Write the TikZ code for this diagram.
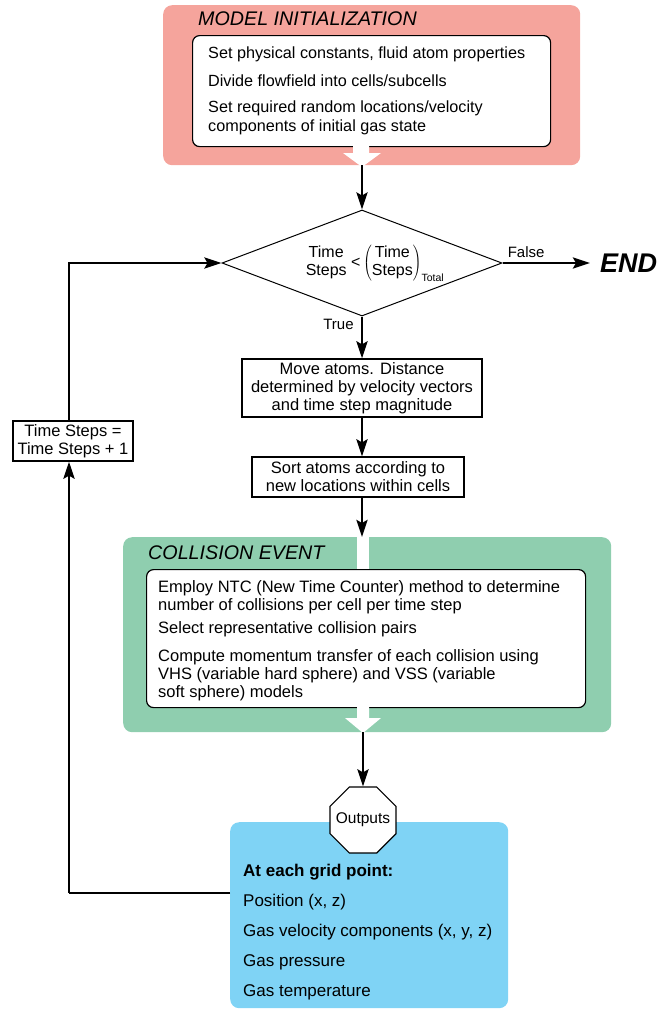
\documentclass[tikz,border=0pt]{standalone}
\usepackage{fontspec}
\setmainfont{Liberation Sans}
\usetikzlibrary{arrows.meta, positioning, shapes.geometric}

\definecolor{initpink}{RGB}{245,164,156}
\definecolor{collgreen}{RGB}{143,206,175}
\definecolor{outblue}{RGB}{127,211,245}

\begin{document}
\begin{tikzpicture}[
  x=1pt, y=-1pt,
  font=\fontsize{16.5}{18}\selectfont,
  panel/.style={rounded corners=9pt, inner sep=0pt, anchor=north west},
  heading/.style={anchor=west, inner sep=0pt, font=\fontsize{19.7}{21}\selectfont\itshape},
  frame/.style={draw, line width=1.2pt, fill=white, rounded corners=7pt,
                anchor=north west, inner sep=0pt},
  listtext/.style={anchor=north west, align=left, inner sep=0pt},
  procbox/.style={draw, line width=1.2pt, fill=white, align=center, inner xsep=4pt},
  decision/.style={diamond, draw, line width=1pt, aspect=2.64, inner sep=0pt,
                   minimum width=280pt, minimum height=106pt,
                   font=\fontsize{16}{18}\selectfont},
  terminal/.style={regular polygon, regular polygon sides=8, draw, line width=1.2pt,
                   fill=white, minimum size=71.4pt, inner sep=0pt,
                   font=\fontsize{15.5}{18}\selectfont},
  flow/.style={-{Stealth[length=17pt, width=11pt, inset=3pt]}, line width=2.8pt},
  tag/.style={inner sep=1pt, font=\fontsize{15}{18}\selectfont}
]
\useasboundingbox (0,0) rectangle (661,1010);

% model initialization
\node[panel, fill=initpink, minimum width=417pt, minimum height=160pt] (init) at (163,5) {};
\node[heading] (inittitle) at (198,19) {MODEL INITIALIZATION};
\node[frame, minimum width=358pt, minimum height=111pt] (initframe) at (192,35) {};
\node[listtext, font=\fontsize{16.2}{19}\selectfont] (initlist) at (208,47)
  {Set physical constants, fluid atom properties\\[9pt]
   Divide flowfield into cells/subcells\\[7pt]
   Set required random locations/velocity\\
   components of initial gas state};
\fill[white] (353,146) -- (369,146) -- (369,153) -- (381,153) -- (362,167)
  -- (343,153) -- (353,153) -- cycle;

% time step test
\node[decision] (cond) at (362,263)
  {\hspace*{26pt}\begin{tabular}{@{}c@{}}Time\\Steps\end{tabular}\ <\,%
   $\left(\begin{tabular}{@{}c@{}}Time\\Steps\end{tabular}\right)_{\mbox{\fontsize{10.5}{10}\selectfont Total}}$};
\node[anchor=west, inner xsep=10pt, inner ysep=0pt,
      font=\fontsize{27}{27}\selectfont\bfseries\itshape] (stop) at (590,263) {END};

% move and sort
\node[procbox, minimum width=240pt, minimum height=55pt] (move) at (362,388)
  {Move atoms. Distance\\determined by velocity vectors\\and time step magnitude};
\node[procbox, minimum width=212pt, minimum height=40pt] (sort) at (358,477)
  {Sort atoms according to\\new locations within cells};

% collision event
\node[panel, fill=collgreen, minimum width=488pt, minimum height=195pt] (coll) at (123,537) {};
\node[heading] (colltitle) at (148,553) {COLLISION EVENT};
\fill[white] (357,537) rectangle (369,570);
\node[frame, minimum width=439pt, minimum height=138pt] (collframe) at (146,569) {};
\node[listtext] (colllist) at (158,580)
  {Employ NTC (New Time Counter) method to determine\\
   number of collisions per cell per time step\\[5pt]
   Select representative collision pairs\\[10pt]
   Compute momentum transfer of each collision using\\
   VHS (variable hard sphere) and VSS (variable\\
   soft sphere) models};
\fill[white] (357,707) -- (369,707) -- (369,718) -- (381,718) -- (363,733)
  -- (345,718) -- (357,718) -- cycle;

% outputs
\node[panel, fill=outblue, minimum width=278pt, minimum height=186pt] (outpanel) at (230,822) {};
\node[terminal] (outs) at (363,820) {\makebox[0pt]{Outputs}};
\node[listtext, font=\fontsize{17}{30}\selectfont] (outlist) at (243,864)
  {\textbf{At each grid point:}\\
   Position (x, z)\\
   Gas velocity components (x, y, z)\\
   Gas pressure\\
   Gas temperature};

% counter
\node[procbox, minimum width=120pt, minimum height=40pt, inner xsep=2pt] (incr) at (73,441)
  {Time Steps =\\Time Steps + 1};
\coordinate (loopbot) at (69,893);

% connectors
\draw[flow] (cond.north |- init.south) -- (cond.north);
\draw[flow] (cond.east) -- node[tag, pos=0.27, above=3pt] {False} (stop.west);
\draw[flow] (cond.south) -- node[tag, pos=0.18, left=6pt] {True} (move.north -| cond.south);
\draw[flow] (move.south -| cond.south) -- (sort.north -| cond.south);
\draw[flow] (sort.south -| cond.south) -- (coll.north -| cond.south);
\draw[flow] (coll.south -| outs.north) -- (outs.north);
\draw[line width=2.8pt] (outpanel.west |- loopbot) -- (loopbot);
\draw[flow] (loopbot) -- (loopbot |- incr.south);
\draw[flow] (loopbot |- incr.north) |- (cond.west);
\end{tikzpicture}
\end{document}
